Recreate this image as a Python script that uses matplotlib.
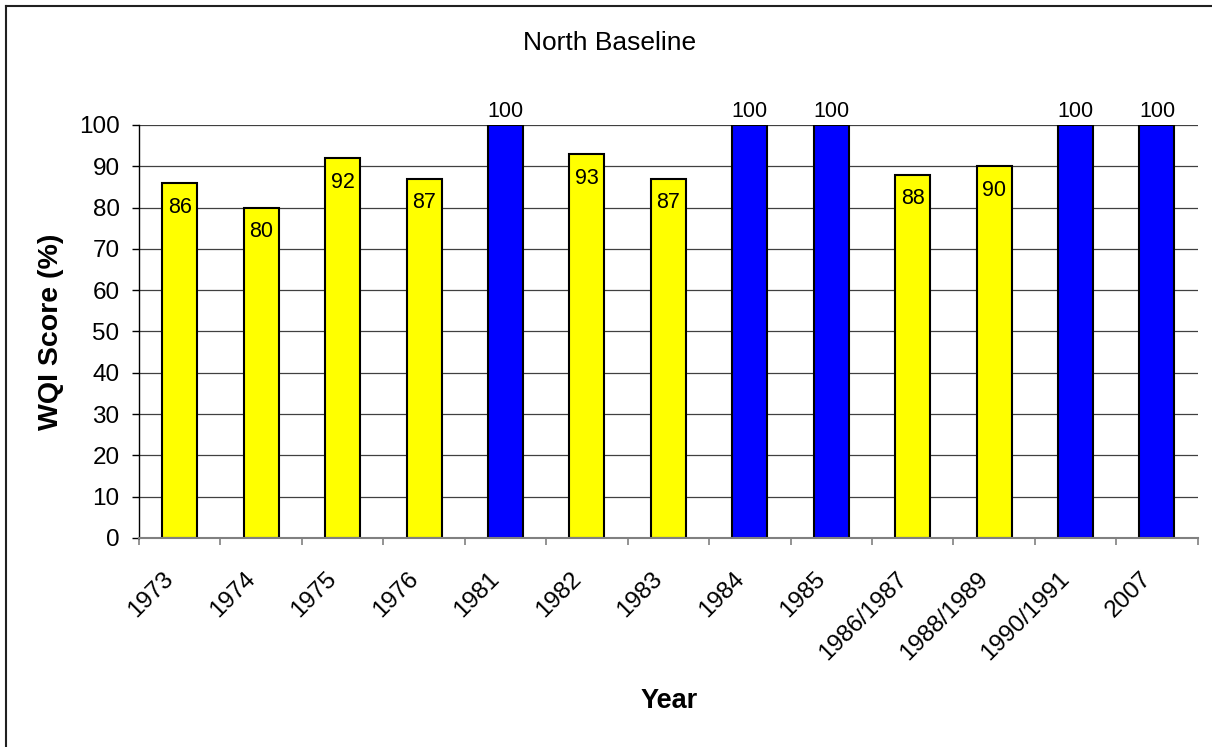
# WQI scores for the North Baseline station, one bar per survey period

import matplotlib.pyplot as plt
import matplotlib.transforms as mtransforms
from matplotlib.lines import Line2D
import numpy as np

plt.rcParams['font.family'] = ['Liberation Sans', 'DejaVu Sans']

years = ["1973", "1974", "1975", "1976", "1981", "1982", "1983", "1984",
         "1985", "1986/1987", "1988/1989", "1990/1991", "2007"]
scores = [86, 80, 92, 87, 100, 93, 87, 100, 100, 88, 90, 100, 100]

YELLOW = "#FFFF00"
BLUE = "#0000FF"


def plot_chart():
    fig = plt.figure(figsize=(12.12, 7.47), dpi=100)
    ax = fig.add_axes([0.1147, 0.2798, 0.8735, 0.5529])

    x = np.arange(len(years))
    # full score bars in blue, the rest in yellow
    colors = [BLUE if s >= 100 else YELLOW for s in scores]
    bars = ax.bar(x, scores, width=0.43, color=colors, edgecolor="black",
                  linewidth=1.5, zorder=3)

    # value labels: inside the top of yellow bars, above the blue ones
    for bar, s in zip(bars, scores):
        cx = bar.get_x() + bar.get_width() / 2
        dy = 9.5 if s >= 100 else -17.5
        ax.annotate(f"{s}", (cx, s), xytext=(0, dy), textcoords="offset points",
                    ha="center", va="center", fontsize=15.5)

    ax.set_xlim(-0.5, len(years) - 0.5)
    ax.set_ylim(0, 100)
    ax.set_yticks(np.arange(0, 101, 10))
    ax.yaxis.grid(True, color="#404040", linewidth=0.9, zorder=0)
    ax.set_axisbelow(True)

    # tick marks between categories, labels under each bar
    ax.set_xticks(np.arange(len(years) + 1) - 0.5)
    ax.set_xticklabels([])
    ax.set_xticks(x, years, minor=True)
    ax.tick_params(axis="x", which="major", length=5, color="#808080", width=1.2, direction="out")
    ax.tick_params(axis="x", which="minor", length=0, pad=21.5, labelsize=17.5)
    shift = mtransforms.ScaledTranslation(-0.17, 0, fig.dpi_scale_trans)
    for lbl in ax.get_xticklabels(minor=True):
        lbl.set_rotation(45)
        lbl.set_ha("right")
        lbl.set_va("top")
        lbl.set_rotation_mode("anchor")
        lbl.set_transform(lbl.get_transform() + shift)

    ax.tick_params(axis="y", length=5, width=1, pad=9, labelsize=17.5)

    for side in ["top", "right"]:
        ax.spines[side].set_visible(False)
    ax.spines["left"].set_color("black")
    ax.spines["left"].set_linewidth(1)
    ax.spines["bottom"].set_color("#808080")
    ax.spines["bottom"].set_linewidth(1.5)
    ax.spines["bottom"].set_zorder(4)

    fig.text(0.503, 0.943, "North Baseline", ha="center", va="center", fontsize=19)
    fig.text(0.5517, 0.0616, "Year", ha="center", va="center", fontsize=19.5, fontweight="bold")
    fig.text(0.042, 0.556, "WQI Score (%)", ha="center", va="center", rotation=90,
             fontsize=20.5, fontweight="bold")

    # chart frame (left and top edges)
    bx = 5.7 / 1212
    by = 1 - 5.7 / 747
    fig.add_artist(Line2D([bx, bx], [0, by], color="#202020", linewidth=1.5))
    fig.add_artist(Line2D([bx, 1], [by, by], color="#202020", linewidth=1.5))

    fig.savefig("out.png", dpi=100)
    plt.close(fig)


if __name__ == "__main__":
    plot_chart()
